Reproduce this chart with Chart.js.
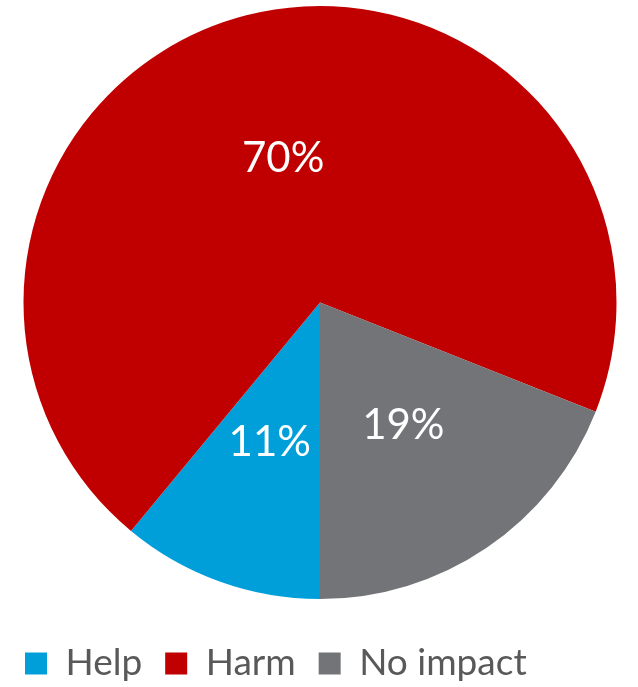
<!DOCTYPE html>
<html>
<head>
<meta charset="utf-8">
<script src="https://cdn.jsdelivr.net/npm/chart.js@4"></script>
<style>
  html, body { margin: 0; padding: 0; background: #fff; }
  #wrap { width: 638px; height: 687px; }
</style>
</head>
<body>
<div id="wrap"><canvas id="impact-chart"></canvas></div>
<script>
// Share of answers per category (percent)
const categories = ['Help', 'Harm', 'No impact'];
const shares = [11, 70, 19];
const sliceColors = ['#009FDA', '#C00000', '#737478'];

const FONT = 'Lato, "Open Sans", sans-serif';

// Writes the percentage in the middle of every slice
const sliceLabels = {
    id: 'sliceLabels',
    afterDatasetsDraw(chart) {
        const ctx = chart.ctx;
        const meta = chart.getDatasetMeta(0);
        ctx.save();
        ctx.fillStyle = '#ffffff';
        ctx.font = '42px ' + FONT;
        ctx.textAlign = 'center';
        ctx.textBaseline = 'middle';
        meta.data.forEach((arc, i) => {
            const pos = arc.getCenterPoint();
            ctx.fillText(shares[i] + '%', pos.x, pos.y);
        });
        ctx.restore();
    }
};

// Leaves some air between the pie and the legend row
const legendGap = {
    id: 'legendGap',
    afterLayout(chart) {
        const gap = 23;
        chart.legend.top += gap;
        chart.legend.bottom += gap;
    }
};

new Chart(document.getElementById('impact-chart'), {
    type: 'pie',
    data: {
        labels: categories,
        datasets: [{
            data: shares,
            backgroundColor: sliceColors,
            borderWidth: 0
        }]
    },
    options: {
        responsive: true,
        maintainAspectRatio: false,
        animation: false,
        rotation: 180,
        layout: {
            padding: { top: 6, left: 2, right: 0, bottom: 18 }
        },
        plugins: {
            tooltip: { enabled: false },
            legend: {
                position: 'bottom',
                align: 'start',
                labels: {
                    boxWidth: 22,
                    boxHeight: 22,
                    padding: 23,
                    color: '#595959',
                    font: { family: FONT, size: 37 }
                }
            }
        }
    },
    plugins: [sliceLabels, legendGap]
});
</script>
</body>
</html>
